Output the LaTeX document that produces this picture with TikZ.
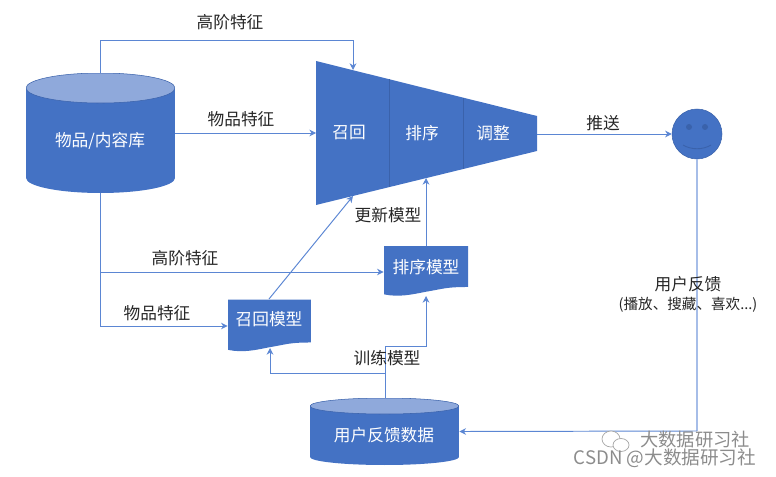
\documentclass[tikz,border=0pt]{standalone}
\usepackage{fontspec}
\setmainfont{Noto Sans CJK SC}
\usepackage{xcolor}
\usetikzlibrary{arrows.meta, positioning}
\definecolor{boxblue}{HTML}{4472C4}
\definecolor{topblue}{HTML}{8FA9DB}
\definecolor{edgeblue}{HTML}{3A62AB}
\definecolor{lineblue}{HTML}{5B86D3}
\definecolor{paleblue}{HTML}{A6BDE8}
\tikzset{
	labeltext/.style={font=\fontsize{9.5}{11}\selectfont, text=black!85, inner sep=0pt},
	boxtext/.style={font=\fontsize{9.5}{11}\selectfont, text=white, inner sep=0pt},
	conn/.style={-{Stealth[length=3.8pt,width=3.8pt]}, lineblue, line width=0.55pt},
	plainconn/.style={lineblue, line width=0.55pt},
	paleconn/.style={paleblue, line width=1pt},
	store/.style={boxtext, minimum width=2.98cm, path picture={
			\fill[boxblue] ([shift={(0,#1)}]path picture bounding box.north west)
			-- ([shift={(0,-#1)}]path picture bounding box.south west)
			arc[start angle=180, end angle=0, x radius=74.5, y radius=#1]
			-- ([shift={(0,#1)}]path picture bounding box.north east) -- cycle;
			\draw[edgeblue, fill=topblue, line width=0.3pt] ([shift={(0,#1)}]path picture bounding box.north) ellipse (74.5 and #1);}},
	docbox/.style={boxtext, path picture={
			\fill[boxblue] (path picture bounding box.north west) -- (path picture bounding box.north east)
			-- ([yshift=5.7pt]path picture bounding box.south east)
			.. controls +(-22,0) and +(18,-3) .. ([yshift=3pt]path picture bounding box.south)
			.. controls +(-15,3) and +(15,3) .. ([yshift=1.5pt]path picture bounding box.south west)
			-- cycle;}},
	watermark/.style={font=\fontsize{10.4}{12}\selectfont, text=black!45, inner sep=0pt}
}
\begin{document}
\begin{tikzpicture}[x=0.02cm, y=-0.02cm, >=Stealth]
	\useasboundingbox (0,0) rectangle (776,476);
	
	\coordinate (FunnelTL) at (316, 61);
	\coordinate (FunnelTR) at (537, 116);
	\coordinate (FunnelBR) at (537, 151);
	\coordinate (FunnelBL) at (316, 205);
	\coordinate (FunnelW) at (316, 133);
	\coordinate (FunnelE) at (537, 134);
	\coordinate (FunnelTop) at (353, 70);
	\coordinate (FunnelLow) at (353, 196);
	\coordinate (FunnelRank) at (426, 178);
	
	\fill[boxblue] (FunnelTL) -- (FunnelTR) -- (FunnelBR) -- (FunnelBL) -- cycle;
	\draw[edgeblue, line width=0.5pt] (389, 79) -- (389, 187);
	\draw[edgeblue, line width=0.5pt] (463, 98) -- (463, 169);
	\node[boxtext] (Recall) at (349, 133) {召回};
	\node[boxtext] (Rank) at (422, 133) {排序};
	\node[boxtext] (Adjust) at (493, 133) {调整};
	
	\node[store=15, minimum height=2.4cm] (ItemDb) at (100.5, 133) {};
	\node[boxtext] (ItemDbText) at (100, 141) {物品/内容库};
	\node[store=8, minimum height=1.34cm] (FeedDb) at (384.5, 431.5) {};
	\node[boxtext] (FeedDbText) at (384, 435) {用户反馈数据};
	
	\node[docbox, minimum width=1.66cm, minimum height=1.06cm] (RecallDoc) at (269.5, 326) {};
	\node[boxtext] (RecallDocText) at (269, 319) {召回模型};
	\node[docbox, minimum width=1.68cm, minimum height=1.02cm] (RankDoc) at (426, 271.5) {};
	\node[boxtext] (RankDocText) at (426, 267) {排序模型};
	
	\node[circle, fill=boxblue, draw=edgeblue, line width=0.3pt, minimum size=1cm, inner sep=0pt] (User) at (697, 134) {};
	\fill[edgeblue] (689, 127) circle (3);
	\fill[edgeblue] (705, 127) circle (3);
	\draw[edgeblue, line width=0.5pt] (683, 145) .. controls (691, 150) and (703, 150) .. (711, 145);
	
	\coordinate (ItemUp) at (100, 73);
	\coordinate (ItemDown) at (100, 193);
	\coordinate (ItemBranch) at (100, 272);
	\coordinate (FeedSplit) at (385, 373);
	\coordinate (FeedUp) at (385, 398);
	
	% item store to funnel and models
	\draw[conn] (ItemUp) -- (100, 40) -| (FunnelTop);
	\draw[conn] (ItemDb.east |- FunnelW) -- (FunnelW);
	\draw[plainconn] (ItemDown) -- (ItemBranch);
	\draw[conn] (ItemBranch) -- (RankDoc.west |- ItemBranch);
	\draw[conn] (ItemBranch) |- (RecallDoc.west);
	
	% models back to funnel
	\draw[conn] (269, 299) -- (FunnelLow);
	\draw[conn] (RankDoc.north) -- (FunnelRank);
	
	% feedback data to models
	\draw[plainconn] (FeedUp) -- (FeedSplit);
	\draw[conn] (FeedSplit) -- (270, 373) -- (270, 348);
	\draw[conn] (FeedSplit) -- (385, 346) -- (426, 346) -- (426, 296);
	
	% push and feedback
	\draw[conn] (FunnelE) -- (User.west);
	\draw[paleconn] (User.south) -- (697, 431);
	\draw[conn] (697, 431) -- (FeedDb.east);
	
	\node[labeltext] (HighTop) at (230, 22) {高阶特征};
	\node[labeltext] (ItemFeat) at (241, 119) {物品特征};
	\node[labeltext] (Push) at (603, 123) {推送};
	\node[labeltext] (Update) at (388, 215) {更新模型};
	\node[labeltext] (HighLow) at (185, 258) {高阶特征};
	\node[labeltext] (ItemLow) at (157, 313) {物品特征};
	\node[labeltext] (Train) at (387, 358) {训练模型};
	\node[labeltext] (Feedback) at (688, 284) {用户反馈};
	\node[labeltext, font=\fontsize{8.3}{10}\selectfont] (FeedbackSub) at (688, 305) {(播放、搜藏、喜欢...)};
	
	% watermark
	\draw[black!35, fill=white, line width=0.4pt] (611, 439) ellipse (9 and 8);
	\draw[black!35, fill=white, line width=0.4pt] (621, 445) ellipse (8 and 6.5);
	\node[watermark] (MarkTop) at (695, 440) {大数据研习社};
	\node[watermark, font=\fontsize{10.6}{13}\selectfont] (MarkCsdn) at (665, 458) {CSDN @大数据研习社};
\end{tikzpicture}
\end{document}
